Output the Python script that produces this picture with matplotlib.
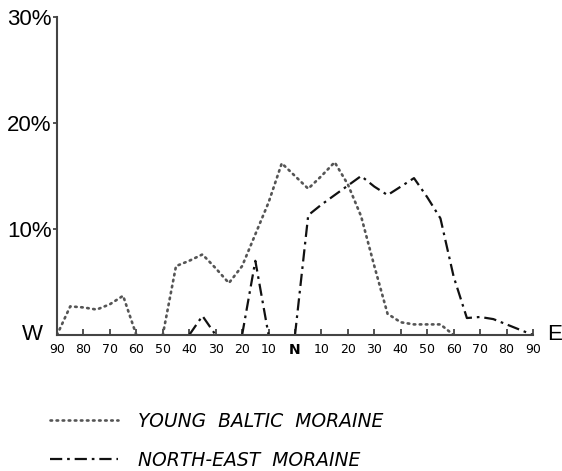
import numpy as np
import matplotlib.pyplot as plt
from matplotlib.lines import Line2D

# bearing in degrees, W negative, N = 0, E positive
bearing = np.arange(-90, 95, 5)

# Young Baltic moraine, % per 5 degree class (ends at 60 E)
young_baltic = [0, 2.7, 2.6, 2.4, 2.9, 3.7, 0, 0, 0, 6.5, 7.0, 7.6, 6.3, 4.9, 6.5, 9.5, 12.5, 16.2,
                15.0, 13.8, 15.0, 16.3, 14.2, 11.2, 6.5, 2.0, 1.2, 1.0, 1.0, 1.0, 0,
                np.nan, np.nan, np.nan, np.nan, np.nan, np.nan]

# North-east moraine
north_east = [np.nan]*10 + [0, 1.8, 0, 0, 0, 7.0, 0, 0, 0, 11.3, 12.3, 13.2, 14.1, 15.0, 14.0, 13.2,
                            14.0, 14.8, 13.0, 11.0, 5.5, 1.6, 1.7, 1.5, 1.0, 0.5, 0]

xtick_pos = np.arange(-90, 100, 10)
xtick_lab = [str(abs(v)) if v != 0 else 'N' for v in xtick_pos]
ytick_pos = [10, 20, 30]
ytick_lab = ['10%', '20%', '30%']


def hide_flat_zeros(y):
    # runs of zero lie on the axis line, the original draws nothing there
    y = np.array(y, dtype=float)
    out = y.copy()
    for i in range(1, len(y) - 1):
        if y[i] == 0 and y[i-1] == 0 and y[i+1] == 0:
            out[i] = np.nan
    return out


yb_style = dict(color='#555555', lw=1.9, ls=(0, (0.6, 1.7)), dash_capstyle='round')
ne_style = dict(color='#111111', lw=1.6, ls=(0, (5.5, 2.2, 1.2, 2.2)))

fig = plt.figure(figsize=(5.62, 4.71), dpi=100)
ax = fig.add_axes([57/562, 1-335/471, 476/562, 318/471])

ax.plot(bearing, hide_flat_zeros(young_baltic), **yb_style)
ax.plot(bearing, hide_flat_zeros(north_east), **ne_style)

ax.set_xlim(-90, 90)
ax.set_ylim(0, 30)
for s in ['top', 'right']:
    ax.spines[s].set_visible(False)
for s in ['left', 'bottom']:
    ax.spines[s].set_color('#444444')
    ax.spines[s].set_linewidth(1.5)

ax.set_xticks(xtick_pos)
ax.set_xticklabels(xtick_lab, fontsize=9, family='DejaVu Sans')
ax.tick_params(axis='x', direction='in', length=4, width=1.3, color='#444444', pad=6)
ax.get_xticklabels()[9].set_fontweight('bold')
ax.get_xticklabels()[9].set_fontsize(10)

ax.set_yticks(ytick_pos)
ax.set_yticklabels(ytick_lab, fontsize=16, family='Liberation Sans')
ax.tick_params(axis='y', direction='out', length=3, width=1.3, color='#444444', pad=1)

ax.text(-0.03, 0, 'W', transform=ax.transAxes, ha='right', va='center', fontsize=16, family='Liberation Sans')
ax.text(1.03, 0, 'E', transform=ax.transAxes, ha='left', va='center', fontsize=16, family='Liberation Sans')

handles = [Line2D([], [], **yb_style), Line2D([], [], **ne_style)]
labels = ['YOUNG  BALTIC  MORAINE', 'NORTH-EAST  MORAINE']
fig.legend(handles, labels, loc='upper left', bbox_to_anchor=(50/562, 1-412/471), frameon=False,
           prop={'family': 'DejaVu Sans', 'style': 'italic', 'size': 13.5}, handlelength=3.6,
           handletextpad=1.1, labelspacing=1.05, borderpad=0, borderaxespad=0)

plt.savefig('out.png', dpi=100)
